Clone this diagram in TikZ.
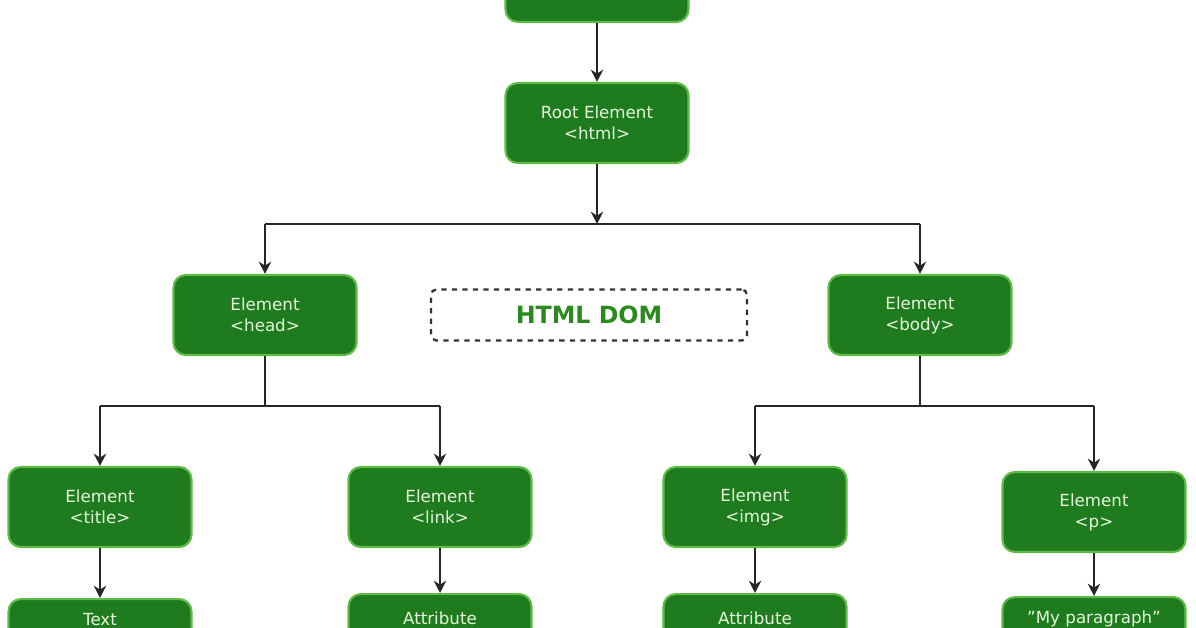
\documentclass[tikz,border=0pt]{standalone}
\usepackage{fontspec}
\setmainfont{DejaVu Sans}
\usetikzlibrary{arrows.meta}
\definecolor{gfill}{HTML}{1E7B1E}
\definecolor{gedge}{HTML}{5DBB46}
\definecolor{gtext}{HTML}{E6F5DC}
\definecolor{gtitle}{HTML}{2A8A1E}
\begin{document}
\begin{tikzpicture}[x=0.02cm,y=-0.02cm,
  lab/.style={text=gtext,font=\fontsize{9.5pt}{12pt}\selectfont},
  bx/.style={draw=gedge,line width=1.2pt,fill=gfill,rounded corners=7pt,lab,align=center,inner sep=0pt,minimum width=3.66cm,minimum height=1.6cm},
  con/.style={draw=black!85,line width=1.1pt},
  arr/.style={con,-{Stealth[length=7pt,width=7pt]}}]
\useasboundingbox (0,0) rectangle (1196,628);
\begin{scope}
\clip (0,0) rectangle (1196,628);
\node[bx] (doc) at (597,-18) {};
\node[bx] (root) at (597,123) {Root Element\\<html>};
\node[bx] (head) at (265,315) {Element\\<head>};
\node[bx] (body) at (920,315) {Element\\<body>};
\node[draw=black!80,dashed,line width=1.3pt,rounded corners=3pt,minimum width=6.32cm,minimum height=1.02cm,text=gtitle,font=\bfseries\fontsize{13.5pt}{16pt}\selectfont] (dom) at (589,315) {HTML DOM};
\node[bx] (title) at (100,507) {Element\\<title>};
\node[bx] (link) at (440,507) {Element\\<link>};
\node[bx] (img) at (755,507) {Element\\<img>};
\node[bx] (p) at (1094,512) {Element\\<p>};
\node[bx,anchor=north] (t1) at (100,598) {};
\node[bx,anchor=north] (t2) at (440,593) {};
\node[bx,anchor=north] (t3) at (755,593) {};
\node[bx,anchor=north] (t4) at (1094,596) {};
\node[lab] (l1) at (100,620) {Text};
\node[lab] (l2) at (440,618) {Attribute};
\node[lab] (l3) at (755,618) {Attribute};
\node[lab] (l4) at (1094,619) {\symbol{34}My paragraph\symbol{34}};
\draw[arr] (doc.south) -- (root.north);
\draw[arr] (root.south) -- (597,224);
\draw[con] (265,224) -- (920,224);
\draw[arr] (265,224) -- (head.north);
\draw[arr] (920,224) -- (body.north);
\draw[con] (head.south) -- (265,406);
\draw[con] (100,406) -- (440,406);
\draw[arr] (100,406) -- (title.north);
\draw[arr] (440,406) -- (link.north);
\draw[con] (body.south) -- (920,406);
\draw[con] (755,406) -- (1094,406);
\draw[arr] (755,406) -- (img.north);
\draw[arr] (1094,406) -- (p.north);
\draw[arr] (title.south) -- (t1.north);
\draw[arr] (link.south) -- (t2.north);
\draw[arr] (img.south) -- (t3.north);
\draw[arr] (p.south) -- (t4.north);
\end{scope}
\end{tikzpicture}
\end{document}
